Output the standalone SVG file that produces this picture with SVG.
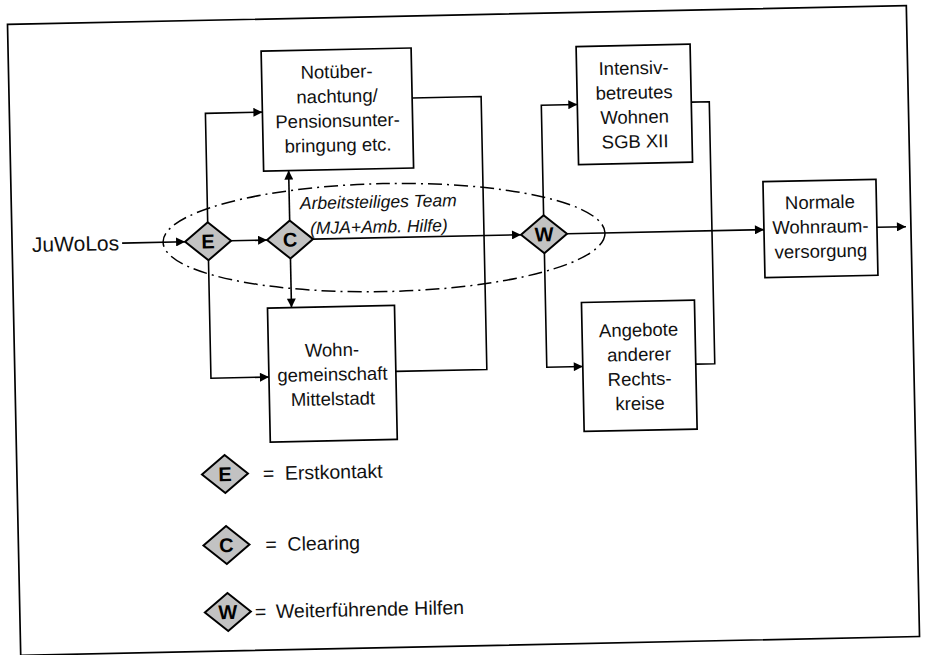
<svg xmlns="http://www.w3.org/2000/svg" width="925" height="655" viewBox="0 0 925 655">
<style>
.box{fill:#fff;stroke:#000;stroke-width:1.7}
.t{font-family:"Liberation Sans",Arial,sans-serif;font-size:18.5px;fill:#111;text-anchor:middle}
.it{font-family:"Liberation Sans",Arial,sans-serif;font-size:17.5px;font-style:italic;fill:#111;text-anchor:middle}
.lg{font-family:"Liberation Sans",Arial,sans-serif;font-size:19.5px;fill:#111}
.dia{fill:#c2c2c2;stroke:#000;stroke-width:2}
.dl{font-family:"Liberation Sans",Arial,sans-serif;font-size:20px;font-weight:bold;fill:#000;text-anchor:middle}
.c{fill:none;stroke:#000;stroke-width:1.6}
</style>
<defs>
<marker id="ah" viewBox="0 0 10 10" refX="10" refY="5" markerWidth="10" markerHeight="9" markerUnits="userSpaceOnUse" orient="auto">
<path d="M0,0 L10,5 L0,10 Z" fill="#000"/>
</marker>
<path id="dm" d="M-23,0 L0,-19 L23,0 L0,19 Z"/>
</defs>
<g transform="rotate(-1.2 462 330)">
<rect id="frame" x="14" y="15" width="899" height="631" fill="none" stroke="#000" stroke-width="1.7"/>

<g id="team">
<ellipse cx="386" cy="236" rx="221" ry="54" fill="none" stroke="#000" stroke-width="1.5" stroke-dasharray="14 5 2 5"/>
<text class="it" x="381" y="206">Arbeitsteiliges Team</text>
<text class="it" x="381" y="231">(MJA+Amb. Hilfe)</text>
</g>

<g id="connectors">
<path class="c" d="M124,236 H187" marker-end="url(#ah)"/>
<path class="c" d="M233,236 H269" marker-end="url(#ah)"/>
<path class="c" d="M315,236 H523" marker-end="url(#ah)"/>
<path class="c" d="M569,236 H766" marker-end="url(#ah)"/>
<path class="c" d="M879,236 H908" marker-end="url(#ah)"/>
<path class="c" d="M210,217 V108 H267" marker-end="url(#ah)"/>
<path class="c" d="M210,255 V373 H268" marker-end="url(#ah)"/>
<path class="c" d="M292,217 V167" marker-end="url(#ah)"/>
<path class="c" d="M292,255 V304" marker-end="url(#ah)"/>
<path class="c" d="M546,217 V107 H582" marker-end="url(#ah)"/>
<path class="c" d="M546,255 V369 H582" marker-end="url(#ah)"/>
<path class="c" d="M417,97 H486 V370 H395"/>
<path class="c" d="M696,107 H714 V369 H695"/>
</g>

<g id="juwolos">
<text x="121" y="243" font-family="Liberation Sans, Arial, sans-serif" font-size="21" fill="#111" text-anchor="end">JuWoLos</text>
</g>

<g id="notuebernachtung">
<rect class="box" x="267" y="47" width="150" height="120"/>
<text class="t" x="342"><tspan x="342" y="75.5">Notüber-</tspan><tspan x="342" y="100">nachtung/</tspan><tspan x="342" y="124.5">Pensionsunter-</tspan><tspan x="342" y="149">bringung etc.</tspan></text>
</g>

<g id="wohngemeinschaft">
<rect class="box" x="268" y="304" width="127" height="134"/>
<text class="t" x="331.5"><tspan x="331.5" y="353.5">Wohn-</tspan><tspan x="331.5" y="378">gemeinschaft</tspan><tspan x="331.5" y="402.5">Mittelstadt</tspan></text>
</g>

<g id="intensiv">
<rect class="box" x="582" y="49" width="114" height="118"/>
<text class="t" x="639"><tspan x="639" y="78">Intensiv-</tspan><tspan x="639" y="102.5">betreutes</tspan><tspan x="639" y="127">Wohnen</tspan><tspan x="639" y="151.5">SGB XII</tspan></text>
</g>

<g id="angebote">
<rect class="box" x="582" y="305" width="113" height="129"/>
<text class="t" x="638.5"><tspan x="638.5" y="340">Angebote</tspan><tspan x="638.5" y="364.5">anderer</tspan><tspan x="638.5" y="389">Rechts-</tspan><tspan x="638.5" y="413.5">kreise</tspan></text>
</g>

<g id="normale">
<rect class="box" x="766" y="188" width="113" height="96"/>
<text class="t" x="822.5"><tspan x="822.5" y="216">Normale</tspan><tspan x="822.5" y="240.5">Wohnraum-</tspan><tspan x="822.5" y="265">versorgung</tspan></text>
</g>

<g id="E">
<use href="#dm" class="dia" x="210" y="236"/>
<text class="dl" x="210" y="243">E</text>
</g>
<g id="C">
<use href="#dm" class="dia" x="292" y="236"/>
<text class="dl" x="292" y="243">C</text>
</g>
<g id="W">
<use href="#dm" class="dia" x="546" y="236"/>
<text class="dl" x="546" y="243">W</text>
</g>

<g id="legend-E">
<use href="#dm" class="dia" x="222" y="469"/>
<text class="dl" x="222" y="476">E</text>
<text class="lg" y="476"><tspan x="260">=</tspan><tspan x="282">Erstkontakt</tspan></text>
</g>
<g id="legend-C">
<use href="#dm" class="dia" x="222" y="540"/>
<text class="dl" x="222" y="547">C</text>
<text class="lg" y="547"><tspan x="261">=</tspan><tspan x="283">Clearing</tspan></text>
</g>
<g id="legend-W">
<use href="#dm" class="dia" x="222" y="607"/>
<text class="dl" x="222" y="614">W</text>
<text class="lg" y="614"><tspan x="249">=</tspan><tspan x="270">Weiterführende Hilfen</tspan></text>
</g>
</g>
</svg>
